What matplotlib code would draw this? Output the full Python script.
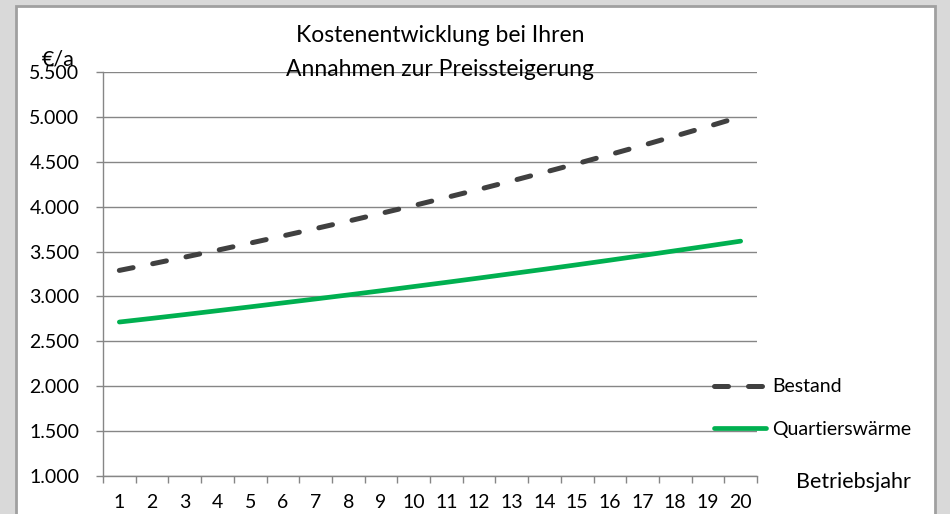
import matplotlib.pyplot as plt
from matplotlib.patches import Rectangle
from matplotlib.ticker import FuncFormatter

years = list(range(1, 21))
bestand = [3290, 3363, 3438, 3515, 3594, 3674, 3756, 3839, 3925, 4012,
           4102, 4193, 4287, 4383, 4480, 4580, 4682, 4787, 4893, 5002]
quartier = [2715, 2756, 2798, 2841, 2884, 2928, 2972, 3017, 3063, 3110,
            3157, 3205, 3254, 3303, 3353, 3404, 3456, 3509, 3562, 3616]
yticks = list(range(1000, 5501, 500))

plt.rcParams['font.family'] = ['Lato', 'DejaVu Sans']

fig = plt.figure(figsize=(9.5, 5.14), dpi=100)
fig.patch.set_facecolor('#d9d9d9')
# white chart panel with gray border
fig.patches.append(Rectangle((16 / 950, -0.05), (935 - 16) / 950, 1.05 - 6 / 514,
                             transform=fig.transFigure, facecolor='white',
                             edgecolor='#a0a0a0', linewidth=2, zorder=-10))

ax = fig.add_axes([103 / 950, 38 / 514, 654 / 950, 404 / 514])
ax.set_facecolor('none')

ax.plot(years, bestand, color='#404040', linewidth=3.6, dashes=(2.8, 4.0),
        dash_capstyle='round', label='Bestand')
ax.plot(years, quartier, color='#00b050', linewidth=3.4,
        solid_capstyle='round', label='Quartierswärme')

ax.set_xlim(0.5, 20.5)
ax.set_ylim(1000, 5500)
ax.set_yticks(yticks)
ax.yaxis.set_major_formatter(FuncFormatter(lambda v, p: f'{int(v):,}'.replace(',', '.')))
ax.set_xticks(years)
ax.set_xticks([y + 0.5 for y in range(0, 21)], minor=True)
ax.tick_params(axis='x', which='major', length=0, pad=13, labelsize=14)
ax.tick_params(axis='x', which='minor', length=5, color='#868686', width=1)
ax.tick_params(axis='y', length=5, color='#868686', width=1, pad=12, labelsize=14)
ax.grid(axis='y', color='#868686', linewidth=1)
ax.set_axisbelow(True)
for s in ['top', 'right']:
    ax.spines[s].set_visible(False)
for s in ['left', 'bottom']:
    ax.spines[s].set_color('#868686')
    ax.spines[s].set_linewidth(1)

fig.legend(loc='center left', bbox_to_anchor=(696 / 950, 1 - 408 / 514),
           frameon=False, fontsize=14, handlelength=2.7, handletextpad=0.3,
           labelspacing=1.3)

fig.text(440 / 950, 1 - 36 / 514, 'Kostenentwicklung bei Ihren', ha='center',
         va='center', fontsize=16.5)
fig.text(440 / 950, 1 - 70 / 514, 'Annahmen zur Preissteigerung', ha='center',
         va='center', fontsize=16.5)
fig.text(58 / 950, 1 - 60 / 514, '€/a', ha='center', va='center', fontsize=15.5)
fig.text(853 / 950, 1 - 482 / 514, 'Betriebsjahr', ha='center', va='center',
         fontsize=15.5)

fig.savefig('out.png', dpi=100, facecolor=fig.get_facecolor())
